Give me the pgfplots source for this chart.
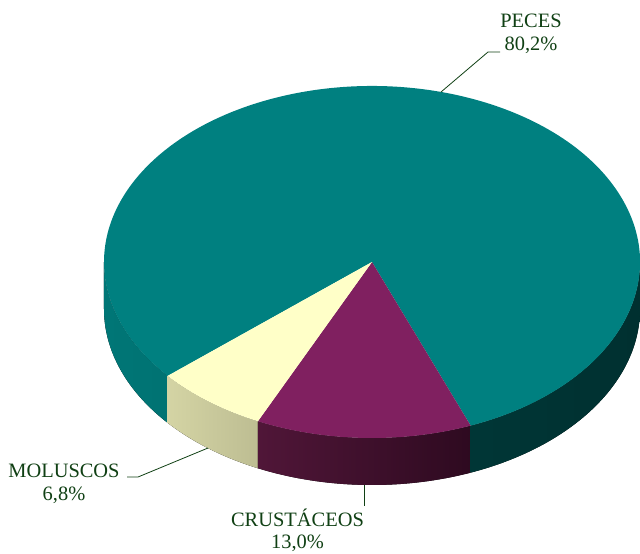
\documentclass[border=0pt]{standalone}
\usepackage{pgfplots}
\pgfplotsset{compat=1.18}
\usepackage{fontspec}
\setmainfont{Liberation Serif}
\definecolor{lblgreen}{RGB}{16,64,20}
\definecolor{pecesTop}{RGB}{0,128,128}
\definecolor{crusTop}{RGB}{128,32,96}
\definecolor{molTop}{RGB}{255,255,200}
% data (percent)
\def\vPeces{80.2}
\def\vCrus{13.0}
\def\vMol{6.8}
\begin{document}
\begin{tikzpicture}
\pgfmathsetmacro{\aStart}{-68.4}
\pgfmathsetmacro{\aCrus}{\aStart-3.6*\vCrus}
\pgfmathsetmacro{\aMol}{\aCrus-3.6*\vMol}
\pgfmathsetmacro{\aPecesEnd}{\aStart+3.6*\vPeces}
\def\cx{372}\def\cy{262}
\def\rx{268bp}\def\ry{176bp}\def\dep{47bp}
\begin{axis}[
  width=640bp, height=553bp, scale only axis,
  xmin=0, xmax=640, ymin=0, ymax=553, y dir=reverse,
  axis lines=none, clip=false,
]
% side walls
\fill[left color={rgb,255:red,0;green,118;blue,118}, right color={rgb,255:red,0;green,104;blue,104}]
  (axis cs:\cx,\cy) ++(180:268bp and 176bp) arc[start angle=180, end angle=\aPecesEnd, x radius=\rx, y radius=\ry]
  -- ++(0,-\dep) arc[start angle=\aPecesEnd, end angle=180, x radius=\rx, y radius=\ry] -- cycle;
\fill[left color={rgb,255:red,212;green,212;blue,164}, right color={rgb,255:red,160;green,160;blue,124}]
  (axis cs:\cx,\cy) ++(\aMol:268bp and 176bp) arc[start angle=\aMol, end angle=\aCrus, x radius=\rx, y radius=\ry]
  -- ++(0,-\dep) arc[start angle=\aCrus, end angle=\aMol, x radius=\rx, y radius=\ry] -- cycle;
\fill[left color={rgb,255:red,80;green,22;blue,56}, right color={rgb,255:red,46;green,10;blue,32}]
  (axis cs:\cx,\cy) ++(\aCrus:268bp and 176bp) arc[start angle=\aCrus, end angle=\aStart, x radius=\rx, y radius=\ry]
  -- ++(0,-\dep) arc[start angle=\aStart, end angle=\aCrus, x radius=\rx, y radius=\ry] -- cycle;
\fill[left color={rgb,255:red,0;green,58;blue,58}, right color={rgb,255:red,0;green,48;blue,48}]
  (axis cs:\cx,\cy) ++(\aStart:268bp and 176bp) arc[start angle=\aStart, end angle=0, x radius=\rx, y radius=\ry]
  -- ++(0,-\dep) arc[start angle=0, end angle=\aStart, x radius=\rx, y radius=\ry] -- cycle;
% top faces
\fill[pecesTop] (axis cs:\cx,\cy) -- ++(\aStart:268bp and 176bp)
  arc[start angle=\aStart, end angle=\aPecesEnd, x radius=\rx, y radius=\ry] -- cycle;
\fill[crusTop] (axis cs:\cx,\cy) -- ++(\aCrus:268bp and 176bp)
  arc[start angle=\aCrus, end angle=\aStart, x radius=\rx, y radius=\ry] -- cycle;
\fill[molTop] (axis cs:\cx,\cy) -- ++(\aMol:268bp and 176bp)
  arc[start angle=\aMol, end angle=\aCrus, x radius=\rx, y radius=\ry] -- cycle;
% leader lines
\draw[lblgreen, line width=0.8bp] (axis cs:441,92) -- (axis cs:488,52) -- (axis cs:500,52);
\draw[lblgreen, line width=0.8bp] (axis cs:127,477) -- (axis cs:138,477) -- (axis cs:208,448);
\draw[lblgreen, line width=0.8bp] (axis cs:364,485) -- (axis cs:364,506);
% labels
\node[text=lblgreen, align=center, inner sep=0pt, font=\fontsize{20.5}{23}\selectfont] at (axis cs:531,33.5) {PECES\\80,2\%};
\node[text=lblgreen, align=center, inner sep=0pt, font=\fontsize{20.5}{23}\selectfont] at (axis cs:64,483.5) {MOLUSCOS\\6,8\%};
\node[text=lblgreen, align=center, inner sep=0pt, font=\fontsize{20.5}{22}\selectfont] at (axis cs:297.5,530) {CRUSTÁCEOS\\13,0\%};
\end{axis}
\pgfresetboundingbox
\path[use as bounding box] (current axis.south west) rectangle (current axis.north east);
\end{tikzpicture}
\end{document}
